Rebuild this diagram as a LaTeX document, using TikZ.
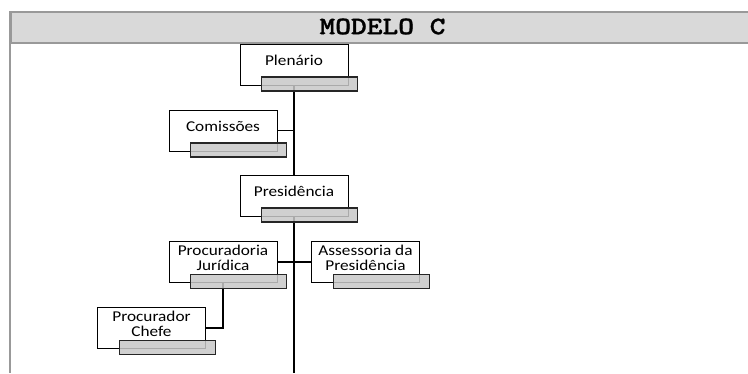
\documentclass[tikz,border=0pt]{standalone}
\usepackage{fontspec}
\newfontfamily\boxfont[FakeStretch=1.15]{Carlito}
\newfontfamily\titlefont[FakeStretch=1.2,FakeBold=1.2]{lmmonolt10-bold.otf}
\usetikzlibrary{calc,backgrounds}
\definecolor{bandgray}{HTML}{D9D9D9}
\definecolor{framegray}{HTML}{999999}
\definecolor{bargray}{HTML}{C8C8C8}
\begin{document}
\begin{tikzpicture}[
                        x=1pt, y=1pt,
                        orgbox/.style={rectangle, draw, fill=white, line width=0.9pt,
                            minimum width=108pt, minimum height=41pt, inner sep=0pt,
                            text depth=8pt, align=center,
                            font=\boxfont\fontsize{15}{14.5}\selectfont},
                        orgbar/.style={rectangle, draw=black!85, fill=bargray, fill opacity=0.85,
                            line width=1.3pt, minimum width=96pt, minimum height=14pt,
                            inner sep=0pt, anchor=north east},
                        link/.style={line width=1.3pt}
                    ]
                    \useasboundingbox (0,0) rectangle (748,-373);
                    % Title band
                    \node [rectangle, draw=framegray, fill=bandgray, line width=2pt, inner sep=0pt,
                           minimum width=760pt, minimum height=31pt, anchor=north west] (band) at (10,-11) {};
                    \node [font=\titlefont\fontsize{25}{25}\selectfont] (title) at (382.5,-26.5) {MODELO C};
                    \coordinate (frame bottom) at (10,-373);
                    \draw [framegray, line width=2pt] (band.north west) -- (frame bottom);

                    % Blocks
                    \node [orgbox] (plen) at (294,-64.5) {Plenário};
                    \node [orgbox] (comis) at (223,-130.5) {Comissões};
                    \node [orgbox] (presid) at (294,-195.5) {Presidência};
                    \node [orgbox] (procj) at (223,-262) {Procuradoria\\Jurídica};
                    \node [orgbox] (asses) at (365.5,-262) {Assessoria da\\Presidência};
                    \node [orgbox] (chefe) at (151.5,-328) {Procurador\\Chefe};
                    \foreach \b in {plen,comis,presid,procj,asses,chefe}
                        \node [orgbar] (\b-bar) at ($(\b.south east)+(10pt,9pt)$) {};

                    % Connections
                    \begin{scope}[on background layer]
                        \draw [link] (plen) -- (plen |- frame bottom);
                        \draw [link] (comis) -- (comis -| plen);
                        \draw [link] (procj) -- (asses);
                        \draw [link] (procj) |- (chefe);
                    \end{scope}
                \end{tikzpicture}
\end{document}
